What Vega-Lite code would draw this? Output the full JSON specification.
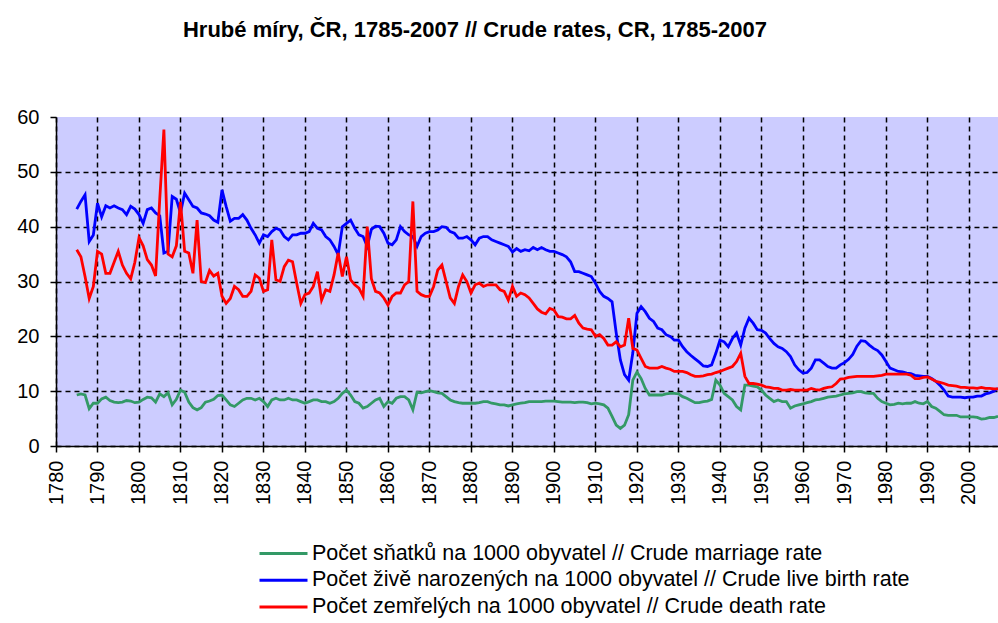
{
"$schema":"https://vega.github.io/schema/vega-lite/v6.json",
"width":942,"height":329,
"autosize":{"type":"none"},
"padding":{"left":56,"top":117,"right":0,"bottom":177},
"background":"white",
"title":{"text":"Hrubé míry, ČR, 1785-2007 // Crude rates, CR, 1785-2007","anchor":"middle","frame":"group","dx":-52,"offset":48,"fontSize":22,"font":"Liberation Sans","fontWeight":"bold","color":"black","baseline":"alphabetic"},
"data":{"values":[
{"year":1785,"m":9.3,"b":43.2,"d":35.8},{"year":1786,"m":9.5,"b":44.6,"d":34.5},{"year":1787,"m":9.3,"b":45.8,"d":30.9},{"year":1788,"m":6.8,"b":37.3,"d":26.9},{"year":1789,"m":7.8,"b":38.5,"d":29.1},
{"year":1790,"m":7.8,"b":44.3,"d":35.5},{"year":1791,"m":8.6,"b":41.8,"d":35.0},{"year":1792,"m":8.9,"b":43.8,"d":31.5},{"year":1793,"m":8.3,"b":43.4,"d":31.5},{"year":1794,"m":8.0,"b":43.8,"d":33.5},
{"year":1795,"m":7.9,"b":43.4,"d":35.5},{"year":1796,"m":8.0,"b":43.1,"d":33.0},{"year":1797,"m":8.3,"b":42.2,"d":31.5},{"year":1798,"m":8.2,"b":43.7,"d":30.5},{"year":1799,"m":7.9,"b":43.2,"d":33.5},
{"year":1800,"m":8.0,"b":42.2,"d":38.0},{"year":1801,"m":8.5,"b":40.6,"d":36.5},{"year":1802,"m":8.9,"b":43.1,"d":34.0},{"year":1803,"m":8.8,"b":43.4,"d":33.0},{"year":1804,"m":8.0,"b":42.5,"d":31.0},
{"year":1805,"m":9.5,"b":42.0,"d":45.0},{"year":1806,"m":9.0,"b":35.2,"d":57.7},{"year":1807,"m":9.7,"b":35.5,"d":35.0},{"year":1808,"m":7.5,"b":45.5,"d":34.5},{"year":1809,"m":8.5,"b":45.0,"d":36.5},
{"year":1810,"m":10.2,"b":42.5,"d":44.5},{"year":1811,"m":9.8,"b":46.1,"d":35.5},{"year":1812,"m":8.0,"b":44.9,"d":35.2},{"year":1813,"m":7.0,"b":43.7,"d":31.5},{"year":1814,"m":6.6,"b":43.4,"d":41.2},
{"year":1815,"m":7.0,"b":42.5,"d":30.0},{"year":1816,"m":8.0,"b":42.3,"d":29.8},{"year":1817,"m":8.2,"b":42.0,"d":32.0},{"year":1818,"m":8.5,"b":41.2,"d":31.0},{"year":1819,"m":9.2,"b":40.8,"d":31.5},
{"year":1820,"m":9.3,"b":46.7,"d":27.3},{"year":1821,"m":8.4,"b":43.7,"d":26.0},{"year":1822,"m":7.5,"b":41.0,"d":26.9},{"year":1823,"m":7.2,"b":41.5,"d":29.1},{"year":1824,"m":7.8,"b":41.5,"d":28.5},
{"year":1825,"m":8.4,"b":42.2,"d":27.3},{"year":1826,"m":8.7,"b":41.2,"d":27.3},{"year":1827,"m":8.7,"b":39.7,"d":28.2},{"year":1828,"m":8.4,"b":38.5,"d":31.2},{"year":1829,"m":8.7,"b":37.0,"d":30.6},
{"year":1830,"m":8.1,"b":38.5,"d":28.2},{"year":1831,"m":7.2,"b":38.2,"d":28.5},{"year":1832,"m":8.4,"b":39.1,"d":37.6},{"year":1833,"m":8.7,"b":39.7,"d":30.3},{"year":1834,"m":8.4,"b":39.4,"d":30.0},
{"year":1835,"m":8.4,"b":38.2,"d":32.7},{"year":1836,"m":8.7,"b":37.6,"d":33.9},{"year":1837,"m":8.4,"b":38.5,"d":33.6},{"year":1838,"m":8.4,"b":38.5,"d":29.7},{"year":1839,"m":8.1,"b":38.8,"d":26.0},
{"year":1840,"m":7.8,"b":38.8,"d":27.6},{"year":1841,"m":8.1,"b":39.1,"d":27.9},{"year":1842,"m":8.4,"b":40.6,"d":29.1},{"year":1843,"m":8.4,"b":39.7,"d":31.8},{"year":1844,"m":8.1,"b":39.4,"d":26.6},
{"year":1845,"m":8.1,"b":38.2,"d":28.5},{"year":1846,"m":7.8,"b":37.6,"d":28.2},{"year":1847,"m":8.1,"b":36.4,"d":31.2},{"year":1848,"m":8.7,"b":34.9,"d":35.2},{"year":1849,"m":9.6,"b":40.0,"d":30.9},
{"year":1850,"m":10.2,"b":40.6,"d":34.5},{"year":1851,"m":9.3,"b":41.2,"d":30.3},{"year":1852,"m":8.1,"b":39.7,"d":29.4},{"year":1853,"m":7.8,"b":38.5,"d":28.8},{"year":1854,"m":6.9,"b":38.2,"d":27.3},
{"year":1855,"m":7.2,"b":36.4,"d":40.0},{"year":1856,"m":7.8,"b":39.5,"d":30.5},{"year":1857,"m":8.4,"b":40.1,"d":28.2},{"year":1858,"m":8.7,"b":40.0,"d":27.9},{"year":1859,"m":7.2,"b":38.8,"d":27.0},
{"year":1860,"m":8.1,"b":37.0,"d":25.7},{"year":1861,"m":7.8,"b":36.7,"d":27.3},{"year":1862,"m":8.7,"b":37.6,"d":27.9},{"year":1863,"m":9.0,"b":40.0,"d":27.9},{"year":1864,"m":9.0,"b":39.1,"d":29.4},
{"year":1865,"m":8.4,"b":38.5,"d":30.0},{"year":1866,"m":6.6,"b":38.2,"d":44.6},{"year":1867,"m":9.8,"b":36.4,"d":28.2},{"year":1868,"m":9.7,"b":38.2,"d":27.6},{"year":1869,"m":9.9,"b":38.8,"d":27.3},
{"year":1870,"m":10.1,"b":39.1,"d":27.3},{"year":1871,"m":9.9,"b":39.1,"d":29.1},{"year":1872,"m":9.7,"b":39.4,"d":32.1},{"year":1873,"m":9.6,"b":40.0,"d":33.0},{"year":1874,"m":9.0,"b":39.9,"d":30.0},
{"year":1875,"m":8.4,"b":39.1,"d":27.0},{"year":1876,"m":8.1,"b":38.8,"d":26.0},{"year":1877,"m":7.9,"b":37.9,"d":29.1},{"year":1878,"m":7.8,"b":37.9,"d":31.2},{"year":1879,"m":7.8,"b":38.2,"d":30.0},
{"year":1880,"m":7.8,"b":37.6,"d":27.9},{"year":1881,"m":7.8,"b":36.7,"d":29.4},{"year":1882,"m":7.9,"b":37.9,"d":29.7},{"year":1883,"m":8.1,"b":38.2,"d":29.1},{"year":1884,"m":8.1,"b":38.2,"d":29.4},
{"year":1885,"m":7.8,"b":37.6,"d":29.4},{"year":1886,"m":7.7,"b":37.3,"d":29.4},{"year":1887,"m":7.5,"b":37.0,"d":28.5},{"year":1888,"m":7.5,"b":36.7,"d":28.2},{"year":1889,"m":7.3,"b":36.4,"d":26.6},
{"year":1890,"m":7.5,"b":35.4,"d":29.1},{"year":1891,"m":7.7,"b":36.0,"d":27.3},{"year":1892,"m":7.8,"b":35.5,"d":27.9},{"year":1893,"m":7.9,"b":35.8,"d":27.6},{"year":1894,"m":8.1,"b":35.6,"d":27.0},
{"year":1895,"m":8.1,"b":36.2,"d":26.0},{"year":1896,"m":8.1,"b":35.8,"d":25.0},{"year":1897,"m":8.1,"b":36.2,"d":24.4},{"year":1898,"m":8.2,"b":35.8,"d":24.1},{"year":1899,"m":8.2,"b":35.5,"d":25.1},
{"year":1900,"m":8.2,"b":35.5,"d":24.8},{"year":1901,"m":8.1,"b":35.2,"d":23.6},{"year":1902,"m":8.0,"b":34.9,"d":23.5},{"year":1903,"m":8.0,"b":34.5,"d":23.2},{"year":1904,"m":8.0,"b":33.6,"d":23.2},
{"year":1905,"m":7.9,"b":31.8,"d":23.8},{"year":1906,"m":8.0,"b":31.8,"d":22.4},{"year":1907,"m":8.0,"b":31.5,"d":21.5},{"year":1908,"m":7.9,"b":31.2,"d":21.3},{"year":1909,"m":7.7,"b":30.9,"d":21.2},
{"year":1910,"m":7.8,"b":29.7,"d":20.0},{"year":1911,"m":7.7,"b":28.2,"d":20.3},{"year":1912,"m":7.5,"b":27.3,"d":19.6},{"year":1913,"m":6.9,"b":26.9,"d":18.4},{"year":1914,"m":5.4,"b":26.3,"d":18.4},
{"year":1915,"m":3.8,"b":20.6,"d":19.0},{"year":1916,"m":3.2,"b":15.7,"d":18.1},{"year":1917,"m":3.8,"b":13.0,"d":18.4},{"year":1918,"m":5.7,"b":12.0,"d":23.3},{"year":1919,"m":12.0,"b":17.0,"d":17.8},
{"year":1920,"m":13.5,"b":24.2,"d":17.5},{"year":1921,"m":12.3,"b":25.4,"d":16.0},{"year":1922,"m":10.5,"b":24.5,"d":14.5},{"year":1923,"m":9.3,"b":23.3,"d":14.2},{"year":1924,"m":9.3,"b":22.7,"d":14.2},
{"year":1925,"m":9.3,"b":21.5,"d":14.2},{"year":1926,"m":9.3,"b":21.2,"d":14.5},{"year":1927,"m":9.5,"b":20.3,"d":14.2},{"year":1928,"m":9.6,"b":20.0,"d":14.0},{"year":1929,"m":9.6,"b":19.3,"d":13.6},
{"year":1930,"m":9.5,"b":19.3,"d":13.6},{"year":1931,"m":9.0,"b":18.1,"d":13.6},{"year":1932,"m":8.7,"b":17.2,"d":13.4},{"year":1933,"m":8.3,"b":16.5,"d":13.0},{"year":1934,"m":7.9,"b":15.9,"d":12.7},
{"year":1935,"m":7.9,"b":15.3,"d":12.7},{"year":1936,"m":8.1,"b":14.6,"d":12.8},{"year":1937,"m":8.2,"b":14.5,"d":13.0},{"year":1938,"m":8.5,"b":14.8,"d":13.1},{"year":1939,"m":12.0,"b":16.9,"d":13.4},
{"year":1940,"m":11.1,"b":19.3,"d":13.6},{"year":1941,"m":9.6,"b":19.0,"d":13.9},{"year":1942,"m":9.0,"b":18.1,"d":14.2},{"year":1943,"m":8.4,"b":19.6,"d":14.5},{"year":1944,"m":7.2,"b":20.6,"d":15.4},
{"year":1945,"m":6.6,"b":18.4,"d":16.9},{"year":1946,"m":11.1,"b":21.5,"d":12.7},{"year":1947,"m":11.1,"b":23.3,"d":11.4},{"year":1948,"m":10.9,"b":22.4,"d":11.4},{"year":1949,"m":10.8,"b":21.2,"d":11.3},
{"year":1950,"m":10.2,"b":21.1,"d":11.1},{"year":1951,"m":9.3,"b":20.6,"d":10.8},{"year":1952,"m":8.7,"b":19.6,"d":10.7},{"year":1953,"m":8.1,"b":18.7,"d":10.5},{"year":1954,"m":8.4,"b":18.1,"d":10.5},
{"year":1955,"m":8.1,"b":17.8,"d":10.2},{"year":1956,"m":8.1,"b":17.2,"d":10.2},{"year":1957,"m":6.9,"b":16.3,"d":10.3},{"year":1958,"m":7.3,"b":14.8,"d":10.2},{"year":1959,"m":7.5,"b":13.9,"d":10.2},
{"year":1960,"m":7.7,"b":13.3,"d":10.2},{"year":1961,"m":7.9,"b":13.4,"d":10.2},{"year":1962,"m":8.1,"b":14.2,"d":10.5},{"year":1963,"m":8.4,"b":15.7,"d":10.3},{"year":1964,"m":8.5,"b":15.7,"d":10.2},
{"year":1965,"m":8.7,"b":15.1,"d":10.5},{"year":1966,"m":8.9,"b":14.5,"d":10.7},{"year":1967,"m":9.0,"b":14.2,"d":10.8},{"year":1968,"m":9.1,"b":14.2,"d":11.4},{"year":1969,"m":9.3,"b":14.8,"d":12.2},
{"year":1970,"m":9.5,"b":15.2,"d":12.3},{"year":1971,"m":9.6,"b":15.8,"d":12.5},{"year":1972,"m":9.7,"b":16.7,"d":12.6},{"year":1973,"m":9.9,"b":18.2,"d":12.7},{"year":1974,"m":9.9,"b":19.2,"d":12.7},
{"year":1975,"m":9.7,"b":19.1,"d":12.7},{"year":1976,"m":9.6,"b":18.4,"d":12.7},{"year":1977,"m":9.6,"b":17.8,"d":12.7},{"year":1978,"m":8.7,"b":17.4,"d":12.8},{"year":1979,"m":8.1,"b":16.6,"d":12.9},
{"year":1980,"m":7.8,"b":15.4,"d":13.1},{"year":1981,"m":7.5,"b":14.2,"d":13.1},{"year":1982,"m":7.6,"b":13.9,"d":13.1},{"year":1983,"m":7.8,"b":13.6,"d":13.1},{"year":1984,"m":7.7,"b":13.5,"d":13.1},
{"year":1985,"m":7.8,"b":13.3,"d":13.1},{"year":1986,"m":7.8,"b":13.2,"d":12.9},{"year":1987,"m":8.1,"b":12.9,"d":12.3},{"year":1988,"m":7.8,"b":12.8,"d":12.3},{"year":1989,"m":7.7,"b":12.7,"d":12.5},
{"year":1990,"m":8.1,"b":12.7,"d":12.6},{"year":1991,"m":7.2,"b":12.3,"d":12.2},{"year":1992,"m":6.9,"b":11.8,"d":11.8},{"year":1993,"m":6.3,"b":11.1,"d":11.6},{"year":1994,"m":5.7,"b":10.2,"d":11.4},
{"year":1995,"m":5.6,"b":9.1,"d":11.1},{"year":1996,"m":5.6,"b":8.9,"d":11.0},{"year":1997,"m":5.6,"b":8.9,"d":10.9},{"year":1998,"m":5.3,"b":8.9,"d":10.7},{"year":1999,"m":5.3,"b":8.8,"d":10.7},
{"year":2000,"m":5.3,"b":8.9,"d":10.6},{"year":2001,"m":5.3,"b":8.9,"d":10.6},{"year":2002,"m":5.2,"b":9.1,"d":10.5},{"year":2003,"m":4.9,"b":9.1,"d":10.7},{"year":2004,"m":5.0,"b":9.5,"d":10.5},
{"year":2005,"m":5.2,"b":9.7,"d":10.5},{"year":2006,"m":5.2,"b":10.0,"d":10.4},{"year":2007,"m":5.4,"b":10.5,"d":10.4}
]},
"transform":[{"fold":["m","b","d"],"as":["series","value"]}],
"mark":{"type":"line","strokeWidth":2.8,"clip":true},
"encoding":{
"x":{"field":"year","type":"quantitative","scale":{"domain":[1780,2007],"nice":false,"zero":false},
"axis":{"values":[1780,1790,1800,1810,1820,1830,1840,1850,1860,1870,1880,1890,1900,1910,1920,1930,1940,1950,1960,1970,1980,1990,2000],"format":"d","labelAngle":-90,"title":null,"grid":true,"gridColor":"black","gridDash":[5,4],"gridWidth":1.5,"domainColor":"black","domainWidth":1.5,"tickColor":"black","tickSize":6,"tickWidth":1.5,"labelFontSize":20,"labelFont":"Liberation Sans","labelColor":"black","labelPadding":8,"labelOverlap":false,"labelFlush":false}},
"y":{"field":"value","type":"quantitative","scale":{"domain":[0,60],"nice":false},
"axis":{"values":[0,10,20,30,40,50,60],"title":null,"grid":true,"gridColor":"black","gridDash":[5,4],"gridWidth":1.5,"gridOpacity":{"condition":{"test":"datum.value == 60","value":0},"value":1},"domainColor":"black","domainWidth":1.5,"tickColor":"black","tickSize":6,"tickWidth":1.5,"labelFontSize":20,"labelFont":"Liberation Sans","labelColor":"black","labelPadding":11,"labelOverlap":false,"labelFlush":false}},
"color":{"field":"series","type":"nominal","scale":{"domain":["m","b","d"],"range":["#339966","#0000FF","#FF0000"]},
"legend":{"orient":"none","legendX":214,"legendY":423,"title":null,"symbolType":"M-2,0H2","symbolSize":576,"symbolStrokeWidth":3,"labelFontSize":21.5,"labelFont":"Liberation Sans","labelColor":"black","labelOffset":15,"rowPadding":2.7,"labelLimit":0,
"labelExpr":"datum.value == 'm' ? 'Počet sňatků na 1000 obyvatel // Crude marriage rate' : datum.value == 'b' ? 'Počet živě narozených na 1000 obyvatel // Crude live birth rate' : 'Počet zemřelých na 1000 obyvatel // Crude death rate'"}}
},
"config":{"view":{"fill":"#CCCCFF","stroke":null}}
}
